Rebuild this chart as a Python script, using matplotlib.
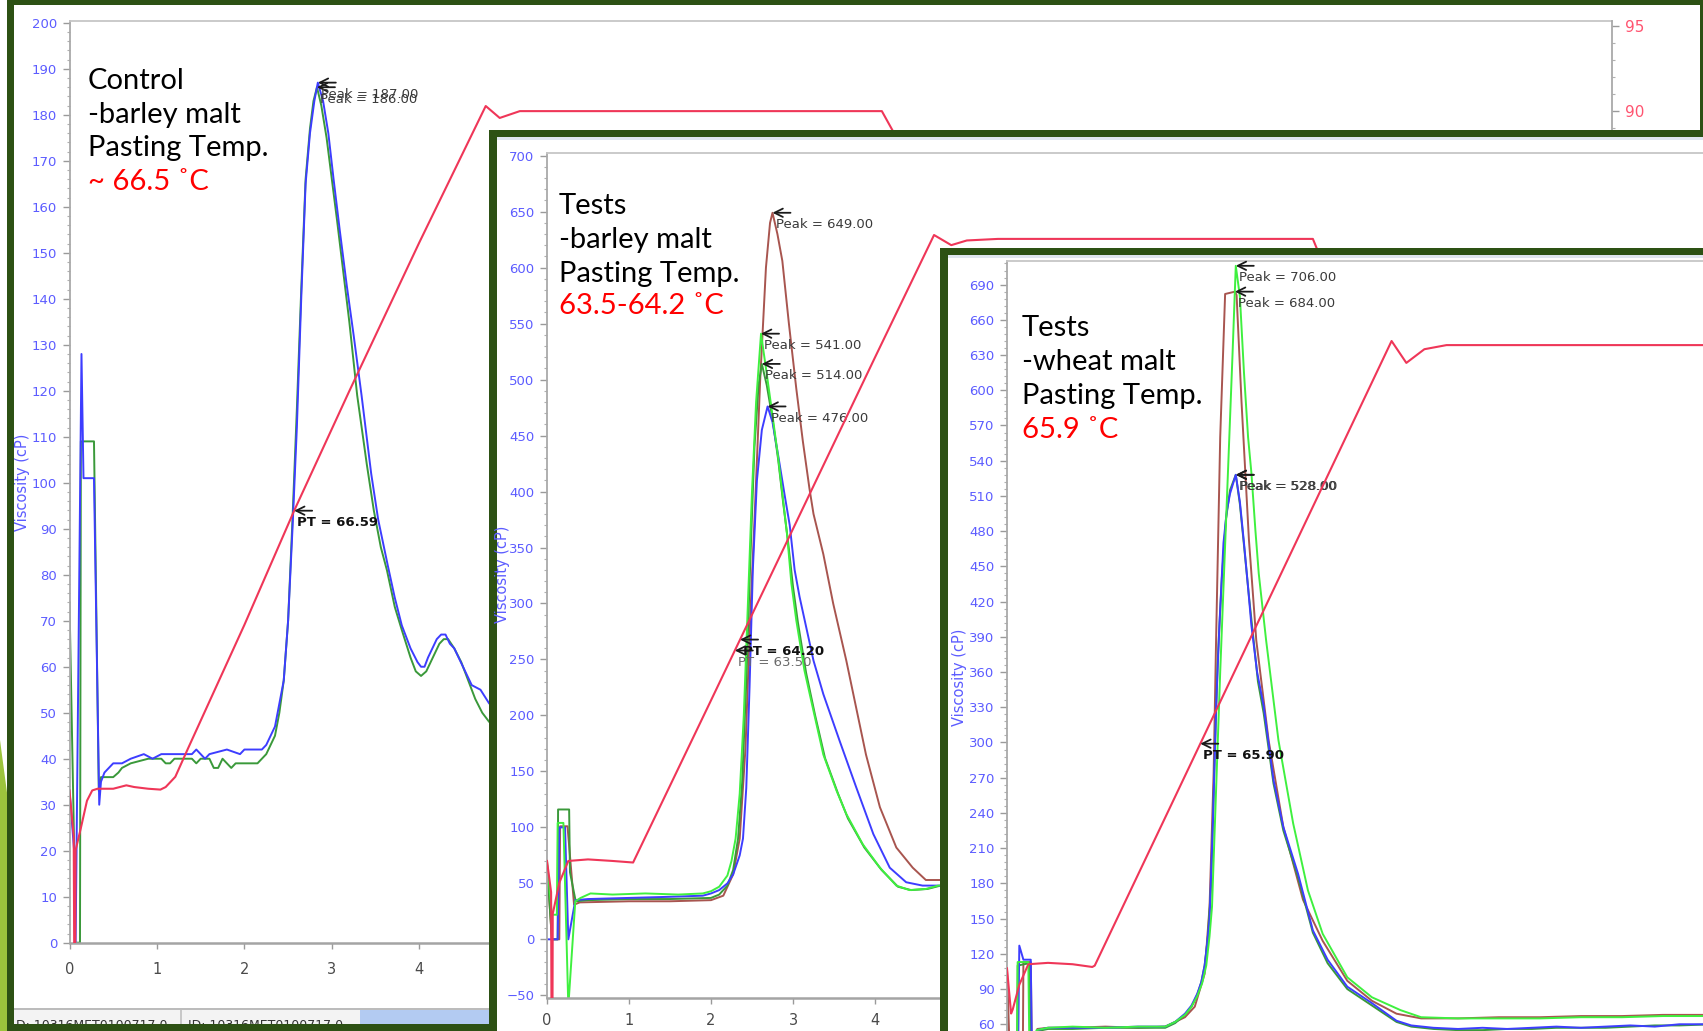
import numpy as np
import matplotlib
matplotlib.use("Agg")
import matplotlib.pyplot as plt
from matplotlib.patches import Rectangle, Polygon
from matplotlib.ticker import MultipleLocator
from matplotlib import font_manager

# ---------------------------------------------------------------------------
# Pasting curves: time (min) vs viscosity (cP); temperature profile (°C)
# ---------------------------------------------------------------------------

# Control - barley malt
ctrl_blue = np.array([
    (0.000, 33), (0.057, 19), (0.062, 0), (0.070, 0), (0.137, 128), (0.160, 101),
    (0.280, 101), (0.340, 30), (0.360, 35), (0.400, 37), (0.450, 38), (0.500, 39),
    (0.600, 39), (0.700, 40), (0.850, 41), (0.950, 40), (1.050, 41), (1.400, 41),
    (1.450, 42), (1.500, 41), (1.550, 40), (1.600, 41), (1.800, 42), (1.950, 41),
    (2.000, 42), (2.200, 42), (2.250, 43), (2.300, 45), (2.350, 47), (2.400, 52),
    (2.450, 57), (2.500, 70), (2.550, 90), (2.600, 112), (2.650, 140), (2.700, 165),
    (2.750, 176), (2.800, 183), (2.840, 187), (2.900, 183), (2.960, 176), (3.020, 166),
    (3.090, 155), (3.170, 143), (3.250, 132), (3.340, 119), (3.450, 102), (3.530, 92),
    (3.640, 82), (3.720, 75), (3.800, 69), (3.900, 64), (3.980, 61), (4.020, 60),
    (4.060, 60), (4.100, 62), (4.150, 64), (4.200, 66), (4.250, 67), (4.300, 67),
    (4.350, 65), (4.400, 64), (4.500, 60), (4.600, 56), (4.700, 55), (4.800, 52),
    (5.000, 50), (5.300, 47)])
ctrl_green = np.array([
    (0.000, 74), (0.055, 19), (0.062, 0), (0.120, 0), (0.130, 109), (0.280, 109),
    (0.335, 33), (0.360, 36), (0.500, 36), (0.560, 37), (0.600, 38), (0.700, 39),
    (0.900, 40), (1.050, 40), (1.100, 39), (1.150, 39), (1.200, 40), (1.400, 40),
    (1.450, 39), (1.500, 40), (1.600, 40), (1.650, 38), (1.700, 38), (1.750, 40),
    (1.800, 39), (1.850, 38), (1.900, 39), (2.150, 39), (2.200, 40), (2.250, 41),
    (2.300, 43), (2.350, 45), (2.400, 50), (2.450, 57), (2.500, 70), (2.550, 92),
    (2.600, 116), (2.650, 142), (2.700, 166), (2.750, 177), (2.790, 183), (2.830, 186),
    (2.880, 182), (2.940, 175), (3.000, 166), (3.060, 157), (3.130, 146), (3.200, 135),
    (3.290, 119), (3.400, 104), (3.480, 94), (3.560, 86), (3.630, 81), (3.720, 73),
    (3.800, 68), (3.900, 62), (3.960, 59), (4.020, 58), (4.080, 59), (4.130, 61),
    (4.180, 63), (4.230, 65), (4.280, 66), (4.330, 66), (4.400, 64), (4.480, 61),
    (4.560, 57), (4.640, 53), (4.720, 50), (4.800, 48), (5.000, 46), (5.300, 44)])
ctrl_temp = np.array([
    (0.000, 50.2), (0.048, 47.5), (0.055, 40.0), (0.064, 40.0), (0.070, 46.7),
    (0.130, 48.0), (0.200, 49.6), (0.260, 50.2), (0.320, 50.3), (0.500, 50.3),
    (0.650, 50.5), (0.740, 50.4), (0.900, 50.3), (1.040, 50.25), (1.100, 50.4),
    (1.210, 51.0), (1.350, 52.6), (2.000, 59.9), (2.570, 66.6), (3.200, 73.6),
    (4.000, 82.3), (4.760, 90.3), (4.920, 89.6), (5.150, 90.0), (7.000, 90.0),
    (9.290, 90.0), (9.420, 88.8), (13.10, 50.2), (17.60, 50.2)])
ctrl_pt = [66.59]
ctrl_note = ["Control", "-barley malt", "Pasting Temp.", "~ 66.5 \u02daC"]

# Tests - barley malt
bar_brown = np.array([
    (0.00, 67), (0.06, 0), (0.15, 0), (0.16, 101), (0.25, 101), (0.33, 31),
    (0.40, 33), (1.00, 34), (1.50, 34), (2.00, 35), (2.15, 39), (2.27, 58),
    (2.35, 90), (2.42, 170), (2.48, 290), (2.53, 374), (2.60, 500), (2.67, 600),
    (2.72, 640), (2.75, 649), (2.81, 630), (2.87, 606), (2.95, 550), (3.04, 492),
    (3.12, 445), (3.20, 403), (3.25, 380), (3.37, 344), (3.49, 300), (3.65, 249),
    (3.77, 207), (3.89, 165), (4.06, 118), (4.26, 82), (4.46, 64), (4.62, 53),
    (4.79, 53), (5.00, 52), (5.50, 51)])
bar_dgreen = np.array([
    (0.00, 67), (0.06, 0), (0.13, 0), (0.135, 116), (0.27, 116), (0.28, 60),
    (0.35, 34), (0.50, 35), (1.00, 36), (1.50, 36), (2.00, 37), (2.10, 40),
    (2.20, 48), (2.27, 62), (2.33, 90), (2.38, 140), (2.43, 230), (2.48, 340),
    (2.53, 440), (2.58, 495), (2.62, 514), (2.68, 495), (2.75, 465), (2.82, 428),
    (2.88, 390), (2.94, 355), (3.00, 315), (3.06, 283), (3.16, 238), (3.27, 200),
    (3.39, 162), (3.55, 130), (3.67, 108), (3.87, 82), (4.08, 62), (4.28, 47),
    (4.44, 44), (4.64, 45), (4.80, 48), (5.00, 48), (5.50, 49)])
bar_blue = np.array([
    (0.00, 0), (0.13, 0), (0.15, 100), (0.22, 100), (0.26, 0), (0.345, 35),
    (0.50, 36), (1.00, 37), (1.50, 38), (1.90, 39), (2.00, 41), (2.10, 44),
    (2.20, 50), (2.27, 58), (2.35, 75), (2.39, 90), (2.43, 135), (2.47, 225),
    (2.51, 330), (2.56, 410), (2.62, 455), (2.69, 476), (2.75, 462), (2.82, 432),
    (2.90, 396), (2.96, 370), (3.02, 330), (3.08, 306), (3.25, 249), (3.37, 219),
    (3.57, 177), (3.77, 136), (3.98, 94), (4.18, 64), (4.38, 51), (4.58, 48),
    (4.77, 48), (5.00, 47), (5.50, 47)])
bar_lgreen = np.array([
    (0.00, 70), (0.06, 22), (0.12, 22), (0.13, 104), (0.20, 104), (0.26, -60),
    (0.345, 34), (0.41, 37), (0.53, 41), (0.80, 40), (1.20, 41), (1.60, 40),
    (1.90, 41), (2.00, 43), (2.10, 47), (2.20, 57), (2.25, 70), (2.30, 90),
    (2.35, 130), (2.40, 200), (2.45, 300), (2.50, 400), (2.55, 480), (2.61, 541),
    (2.68, 505), (2.75, 468), (2.82, 430), (2.88, 392), (2.93, 360), (2.98, 318),
    (3.04, 285), (3.14, 240), (3.25, 204), (3.37, 165), (3.53, 133), (3.65, 112),
    (3.85, 85), (4.06, 64), (4.26, 48), (4.42, 44), (4.62, 45), (4.77, 48),
    (5.00, 48), (5.50, 49)])
bar_temp = np.array([
    (0.000, 50.0), (0.050, 48.0), (0.058, 35.0), (0.064, 35.0), (0.070, 46.6),
    (0.150, 48.6), (0.260, 50.0), (0.500, 50.1), (0.800, 50.0), (1.050, 49.9),
    (2.000, 60.3), (3.000, 71.3), (4.000, 82.3), (4.720, 90.15), (4.930, 89.5),
    (5.120, 89.8), (5.500, 89.9), (9.340, 89.9), (9.410, 89.0), (13.10, 50.0),
    (17.60, 50.0)])
bar_pt = [64.20, 63.50]
bar_note = ["Tests", "-barley malt", "Pasting Temp.", "63.5-64.2 \u02daC"]

# Tests - wheat malt
wht_brown = np.array([
    (0.00, 107), (0.05, 0), (0.19, 0), (0.20, 113), (0.29, 113), (0.31, 0),
    (0.37, 56), (0.50, 57), (0.80, 57), (1.20, 58), (1.60, 57), (1.93, 58),
    (2.05, 62), (2.17, 66), (2.29, 75), (2.41, 103), (2.47, 160), (2.52, 274),
    (2.55, 388), (2.60, 560), (2.66, 682), (2.78, 684), (2.80, 681), (2.86, 590),
    (2.95, 473), (3.01, 416), (3.04, 387), (3.19, 302), (3.37, 228), (3.61, 166),
    (3.85, 131), (4.15, 97), (4.45, 80), (4.75, 69), (5.05, 65), (5.50, 65),
    (6.00, 66), (6.50, 66), (7.00, 67), (7.50, 67), (8.00, 68), (8.60, 68)])
wht_dgreen = np.array([
    (0.00, 0), (0.12, 0), (0.13, 110), (0.27, 112), (0.30, 0), (0.36, 54),
    (0.50, 56), (0.80, 56), (1.20, 57), (1.60, 57), (1.93, 57), (2.05, 61),
    (2.17, 68), (2.25, 75), (2.32, 85), (2.37, 96), (2.41, 110), (2.45, 135),
    (2.49, 180), (2.53, 280), (2.57, 370), (2.62, 440), (2.67, 490), (2.72, 515),
    (2.79, 528), (2.84, 503), (2.89, 468), (2.95, 425), (3.00, 392), (3.06, 352),
    (3.13, 325), (3.25, 265), (3.37, 225), (3.55, 185), (3.73, 138), (3.91, 112),
    (4.15, 90), (4.45, 76), (4.75, 62), (4.93, 58), (5.20, 56), (5.50, 55),
    (5.80, 55), (6.10, 56), (6.40, 56), (6.70, 57), (7.00, 57), (7.30, 57),
    (7.60, 58), (7.90, 59), (8.20, 59), (8.60, 60)])
wht_blue = np.array([
    (0.00, 0), (0.13, 0), (0.15, 127), (0.20, 115), (0.29, 115), (0.31, 0),
    (0.37, 55), (0.50, 57), (0.80, 57), (1.20, 57), (1.60, 58), (1.93, 58),
    (2.05, 62), (2.17, 69), (2.25, 76), (2.32, 86), (2.37, 96), (2.41, 110),
    (2.44, 128), (2.47, 150), (2.51, 230), (2.55, 330), (2.59, 400), (2.64, 470),
    (2.68, 497), (2.72, 512), (2.79, 528), (2.84, 505), (2.89, 470), (2.94, 432),
    (2.98, 400), (3.05, 360), (3.13, 331), (3.25, 268), (3.37, 228), (3.55, 188),
    (3.73, 140), (3.91, 115), (4.15, 92), (4.45, 78), (4.75, 63), (4.93, 59),
    (5.20, 57), (5.50, 56), (5.80, 57), (6.10, 56), (6.40, 57), (6.70, 58),
    (7.00, 57), (7.30, 58), (7.60, 59), (7.90, 58), (8.20, 60), (8.60, 60)])
wht_lgreen = np.array([
    (0.00, 0), (0.12, 0), (0.13, 113), (0.26, 113), (0.28, 0), (0.36, 55),
    (0.50, 57), (0.80, 58), (1.20, 57), (1.60, 58), (1.93, 58), (2.05, 62),
    (2.17, 68), (2.25, 75), (2.32, 84), (2.38, 95), (2.43, 110), (2.47, 135),
    (2.50, 160), (2.55, 260), (2.60, 360), (2.65, 450), (2.70, 540), (2.75, 630),
    (2.79, 706), (2.84, 680), (2.89, 615), (2.94, 560), (2.98, 530), (3.03, 480),
    (3.07, 444), (3.16, 387), (3.31, 302), (3.49, 231), (3.67, 174), (3.85, 137),
    (4.15, 100), (4.45, 83), (4.80, 72), (5.05, 66), (5.50, 65), (6.00, 65),
    (6.50, 65), (7.00, 66), (7.50, 66), (8.00, 67), (8.60, 67)])
wht_temp = np.array([
    (0.000, 49.5), (0.050, 46.2), (0.070, 46.5), (0.150, 48.3), (0.260, 49.8),
    (0.500, 49.9), (0.800, 49.8), (1.040, 49.6), (1.070, 49.7), (2.000, 61.4),
    (3.000, 74.0), (4.000, 86.6), (4.690, 95.3), (4.870, 93.7), (5.090, 94.7),
    (5.360, 95.0), (9.300, 95.0), (9.400, 94.0), (13.10, 50.0), (17.60, 50.0)])
wht_pt = [65.90]
wht_note = ["Tests", "-wheat malt", "Pasting Temp.", "65.9 \u02daC"]

# ---------------------------------------------------------------------------
# Styling
# ---------------------------------------------------------------------------
W, H, DPI = 1703, 1031, 100
FRAME_GREEN = "#2d5114"
LIME = "#9cc43c"
AXIS_BLUE = "#5c5cff"
AXIS_RED = "#ff5470"
TEMP_LINE = "#ef3658"
C_BLUE = "#3d3dff"
C_GREEN = "#3a993a"
C_LGREEN = "#3ff03f"
C_BROWN = "#a8554f"

installed = {f.name for f in font_manager.fontManager.ttflist}
if "Liberation Sans Narrow" in installed:
    TICK_FONT, TICK_SIZE = "Liberation Sans Narrow", 12
else:
    TICK_FONT, TICK_SIZE = "DejaVu Sans", 9.5
NOTE_FONT = ["Lato", "DejaVu Sans"]
MARK_FONT = "DejaVu Sans"

fig = plt.figure(figsize=(W / DPI, H / DPI), dpi=DPI)
fig.patch.set_facecolor("white")


def fbox(x0, y0, x1, y1):
    """Pixel box (top-left origin) -> figure fraction [l, b, w, h]."""
    return [x0 / W, 1 - y1 / H, (x1 - x0) / W, (y1 - y0) / H]


def rect(x0, y0, x1, y1, color, z):
    l, b, w, h = fbox(x0, y0, x1, y1)
    fig.add_artist(Rectangle((l, b), w, h, transform=fig.transFigure,
                             facecolor=color, edgecolor="none", zorder=z))


def fig_xy(x, y):
    return x / W, 1 - y / H


def style_axes(ax, axt, ylim, tlim, xmax, ymajor, yminor, xpad):
    ax.set_facecolor("none")
    ax.set_xlim(0, xmax)
    ax.set_ylim(*ylim)
    axt.set_ylim(*tlim)
    ax.spines["top"].set_color("#c6c6c6")
    ax.spines["top"].set_linewidth(1.3)
    ax.spines["left"].set_color("#a9a9a9")
    ax.spines["left"].set_linewidth(1.3)
    ax.spines["bottom"].set_color("#a4a4a4")
    ax.spines["bottom"].set_linewidth(1.8)
    ax.spines["right"].set_visible(False)
    for s in ("top", "left", "bottom", "right"):
        axt.spines[s].set_visible(False)
    ax.yaxis.set_major_locator(MultipleLocator(ymajor))
    ax.yaxis.set_minor_locator(MultipleLocator(yminor))
    ax.xaxis.set_major_locator(MultipleLocator(1))
    ax.tick_params(axis="y", which="major", direction="out", length=5, width=1,
                   color="#9a9a9a", labelcolor=AXIS_BLUE, labelsize=TICK_SIZE,
                   labelfontfamily=TICK_FONT, pad=4)
    ax.tick_params(axis="y", which="minor", direction="out", length=2.5,
                   width=0.8, color="#b0b0b0")
    ax.tick_params(axis="x", which="major", direction="out", length=4, width=1,
                   color="#9a9a9a", labelcolor="#4a4a4a", labelsize=TICK_SIZE + 1,
                   labelfontfamily=TICK_FONT, pad=xpad)


def time_at_temp(curve, target, t_lo, t_hi):
    t, c = curve[:, 0], curve[:, 1]
    m = (t >= t_lo) & (t <= t_hi)
    return np.interp(target, c[m], t[m])


def arrow_mark(ax, x, y, text, color, weight="normal", dx=3):
    ax.annotate("", xy=(x, y), xytext=(18, 0), textcoords="offset pixels",
                arrowprops=dict(arrowstyle="->,head_length=0.6,head_width=0.3",
                                lw=1.3, color="#1a1a1a", shrinkA=0, shrinkB=0))
    ax.annotate(text, xy=(x, y), xytext=(dx, -12), textcoords="offset pixels",
                ha="left", va="center", fontsize=9.5, family=MARK_FONT,
                color=color, fontweight=weight)


def peak_marks(ax, curves, dx=3):
    for cv in curves:
        i = int(np.argmax(cv[:, 1]))
        arrow_mark(ax, cv[i, 0], cv[i, 1], f"Peak = {cv[i, 1]:.2f}", "#3a3a3a", dx=dx)


def pt_marks(axt, temp, pts, colors, weights):
    for p, c, w in zip(pts, colors, weights):
        t = time_at_temp(temp, p, 1.0, 4.7)
        arrow_mark(axt, t, p, f"PT = {p:.2f}", c, w)


def note(ax, x, baselines, lines):
    colors = ["black", "black", "black", "#ff0000"]
    for y, s, c in zip(baselines, lines, colors):
        ax.text(*fig_xy(x, y), s, transform=fig.transFigure, fontsize=21,
                family=NOTE_FONT, color=c, ha="left", va="baseline")


def ylabel(ax, x, y):
    ax.text(*fig_xy(x, y), "Viscosity (cP)", transform=fig.transFigure,
            rotation=90, ha="center", va="center", fontsize=10.5,
            family="DejaVu Sans", color=AXIS_BLUE)


XMAX = 17.64

# ---------------------------------------------------------------------------
# Panel 1: Control
# ---------------------------------------------------------------------------
l_wedge = [fig_xy(0, 740), fig_xy(8, 800), fig_xy(8, 1031), fig_xy(0, 1031)]
fig.add_artist(Polygon(l_wedge, closed=True, transform=fig.transFigure,
                       facecolor=LIME, edgecolor="none", zorder=0.5))
rect(7, 0, 1703, 1031, FRAME_GREEN, 1.0)
rect(14, 5, 1700, 1024, "white", 1.05)
rect(14, 1008, 1700, 1010, "#bcbcbc", 1.1)
rect(14, 1010, 1700, 1024, "#f3f3f3", 1.1)
rect(360, 1010, 1700, 1024, "#b3cbf2", 1.12)
rect(180, 1010, 181.5, 1024, "#c8c8c8", 1.12)
fig.text(*fig_xy(16, 1029), "D: 10316MET0100717.0", fontsize=9, color="#333333",
         family="DejaVu Sans", zorder=1.13)
fig.text(*fig_xy(188, 1029), "ID: 10316MET0100717.0", fontsize=9, color="#333333",
         family="DejaVu Sans", zorder=1.13)
rect(7, 1024, 1703, 1031, FRAME_GREEN, 1.15)

ax1 = fig.add_axes(fbox(69.5, 21, 1612, 942.7))
ax1.set_zorder(2)
ax1t = ax1.twinx()
ax1t.set_zorder(2.1)
ax1t.patch.set_visible(False)
style_axes(ax1, ax1t, (0, 200.4), (41.28, 95.28), XMAX, 10, 2, 10)
ax1t.spines["right"].set_visible(True)
ax1t.spines["right"].set_color("#a9a9a9")
ax1t.spines["right"].set_linewidth(1.3)
ax1t.yaxis.set_major_locator(MultipleLocator(5))
ax1t.yaxis.set_minor_locator(MultipleLocator(1))
ax1t.tick_params(axis="y", which="major", direction="out", length=5, width=1,
                 color="#9a9a9a", labelcolor=AXIS_RED, labelsize=TICK_SIZE + 1.5,
                 labelfontfamily=TICK_FONT, pad=4)
ax1t.tick_params(axis="y", which="minor", direction="out", length=2.5,
                 width=0.8, color="#b0b0b0")

ax1.plot(ctrl_green[:, 0], ctrl_green[:, 1], color=C_GREEN, lw=1.4)
ax1.plot(ctrl_blue[:, 0], ctrl_blue[:, 1], color=C_BLUE, lw=1.4)
ax1t.plot(ctrl_temp[:, 0], ctrl_temp[:, 1], color=TEMP_LINE, lw=1.5)
peak_marks(ax1, [ctrl_green, ctrl_blue])
pt_marks(ax1t, ctrl_temp, ctrl_pt, ["#111111"], ["bold"])
note(ax1t, 88, [89, 122.5, 156, 189.5], ctrl_note)
ylabel(ax1, 23, 482)

# ---------------------------------------------------------------------------
# Panel 2: Tests, barley malt
# ---------------------------------------------------------------------------
rect(489, 130, 1800, 1100, FRAME_GREEN, 3.0)
rect(497, 137, 1800, 1100, "white", 3.05)
rect(497, 137, 1800, 140, "#dfe6ef", 3.06)

ax2 = fig.add_axes(fbox(547, 153, 547 + XMAX * 82, 998))
ax2.set_zorder(4)
ax2t = ax2.twinx()
ax2t.set_zorder(4.1)
ax2t.patch.set_visible(False)
style_axes(ax2, ax2t, (-52.4, 702.4), (41.21, 95.41), XMAX, 50, 10, 7)
ax2.set_xticks(np.arange(0, 14))
ax2t.set_yticks([])

ax2.plot(bar_brown[:, 0], bar_brown[:, 1], color=C_BROWN, lw=1.4)
ax2.plot(bar_dgreen[:, 0], bar_dgreen[:, 1], color=C_GREEN, lw=1.4)
ax2.plot(bar_blue[:, 0], bar_blue[:, 1], color=C_BLUE, lw=1.4)
ax2.plot(bar_lgreen[:, 0], bar_lgreen[:, 1], color=C_LGREEN, lw=1.4)
ax2t.plot(bar_temp[:, 0], bar_temp[:, 1], color=TEMP_LINE, lw=1.5)
peak_marks(ax2, [bar_brown, bar_lgreen, bar_dgreen, bar_blue])
pt_marks(ax2t, bar_temp, bar_pt, ["#111111", "#6a6a6a"], ["bold", "normal"])
note(ax2t, 559, [214, 248, 282, 314.5], bar_note)
ylabel(ax2, 503, 574)

# ---------------------------------------------------------------------------
# Panel 3: Tests, wheat malt
# ---------------------------------------------------------------------------
rect(940, 248, 1800, 1100, FRAME_GREEN, 5.0)
rect(948, 255, 1800, 1100, "white", 5.05)
rect(948, 255, 1800, 258, "#dfe6ef", 5.06)

ax3 = fig.add_axes(fbox(1007, 261, 1007 + XMAX * 82, 1096))
ax3.set_zorder(6)
ax3t = ax3.twinx()
ax3t.set_zorder(6.1)
ax3t.patch.set_visible(False)
style_axes(ax3, ax3t, (-1.1, 710.1), (40.18, 101.14), XMAX, 30, 6, 7)
ax3.set_yticks(np.arange(60, 691, 30))
ax3.tick_params(axis="x", labelbottom=False)
ax3t.set_yticks([])

ax3.plot(wht_brown[:, 0], wht_brown[:, 1], color=C_BROWN, lw=1.4)
ax3.plot(wht_dgreen[:, 0], wht_dgreen[:, 1], color=C_GREEN, lw=1.4)
ax3.plot(wht_blue[:, 0], wht_blue[:, 1], color=C_BLUE, lw=1.4)
ax3.plot(wht_lgreen[:, 0], wht_lgreen[:, 1], color=C_LGREEN, lw=1.4)
ax3t.plot(wht_temp[:, 0], wht_temp[:, 1], color=TEMP_LINE, lw=1.5)
peak_marks(ax3, [wht_lgreen, wht_brown, wht_blue])
peak_marks(ax3, [wht_dgreen], dx=4)
pt_marks(ax3t, wht_temp, wht_pt, ["#111111"], ["bold"])
note(ax3t, 1022, [336, 370, 404, 438], wht_note)
ylabel(ax3, 960, 677)

fig.savefig("out.png", dpi=DPI)
